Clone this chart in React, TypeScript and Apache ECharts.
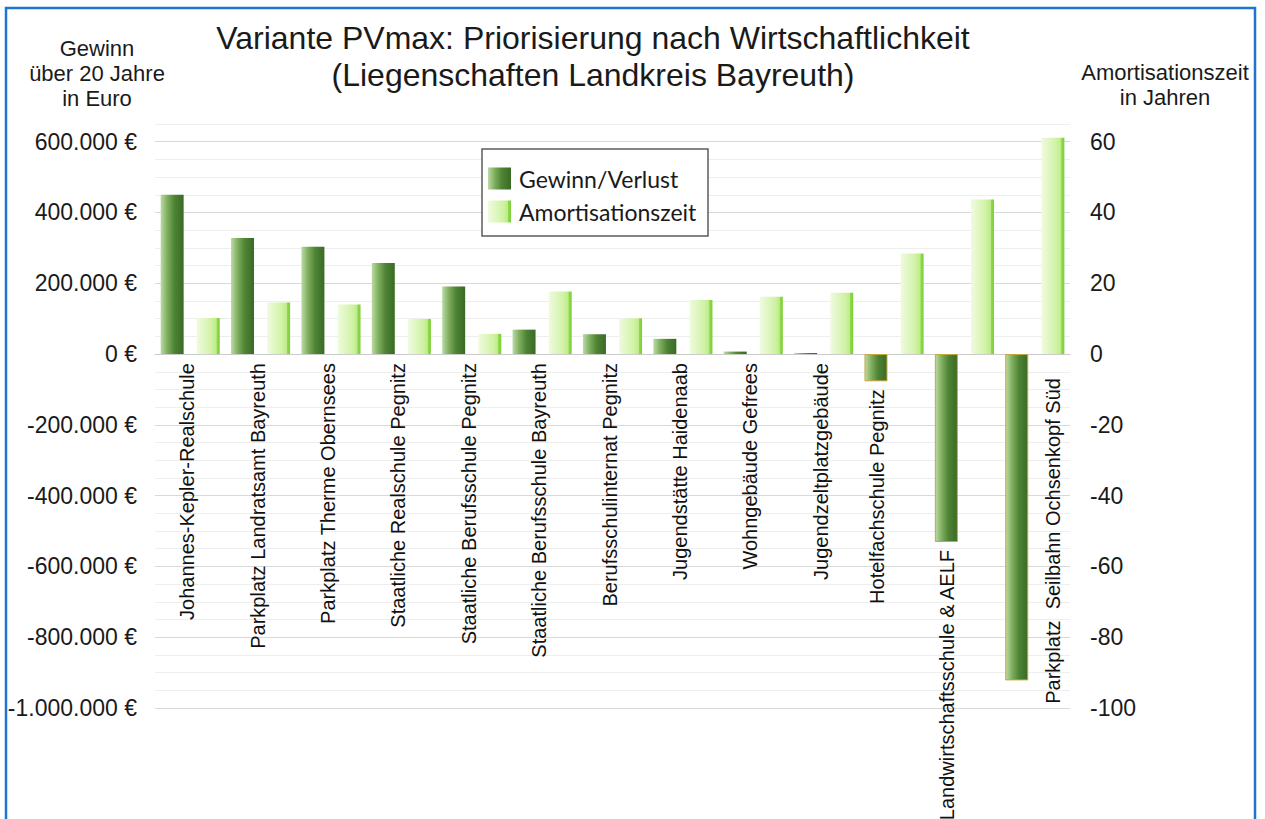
import React, { useEffect, useRef } from 'react';
import * as echarts from 'echarts';

const CATEGORIES = [
  'Johannes-Kepler-Realschule',
  'Parkplatz Landratsamt Bayreuth',
  'Parkplatz Therme Obernsees',
  'Staatliche Realschule Pegnitz',
  'Staatliche Berufsschule Pegnitz',
  'Staatliche Berufsschule Bayreuth',
  'Berufsschulinternat Pegnitz',
  'Jugendstätte Haidenaab',
  'Wohngebäude Gefrees',
  'Jugendzeltplatzgebäude',
  'Hotelfachschule Pegnitz',
  'Landwirtschaftsschule & AELF',
  'Parkplatz  Seilbahn Ochsenkopf Süd',
];

// Gewinn/Verlust über 20 Jahre in Euro
const GEWINN = [450000, 328000, 303000, 257000, 191000, 69000, 56000, 43000, 7000, 3000, -77000, -531000, -922000];
// Amortisationszeit in Jahren
const AMORT = [10.2, 14.6, 14.0, 9.9, 5.7, 17.7, 10.1, 15.3, 16.2, 17.3, 28.4, 43.7, 61.1];

const LEFT_RANGE = [-1000000, 650000];
const LEFT_LABEL_STEP = 200000;
const RIGHT_RANGE = [-100, 65];
const RIGHT_LABEL_STEP = 20;

const SERIES_NAMES = ['Gewinn/Verlust', 'Amortisationszeit'];
const LEFT_TITLE = 'Gewinn\nüber 20 Jahre\nin Euro';
const RIGHT_TITLE = 'Amortisationszeit\nin Jahren';
const TITLE = 'Variante PVmax: Priorisierung nach Wirtschaftlichkeit\n(Liegenschaften Landkreis Bayreuth)';

// where each category label sits (layout only)
const LABEL_PLACE = ['axis', 'axis', 'axis', 'axis', 'axis', 'axis', 'axis', 'axis', 'axis', 'axis', 'belowBar', 'belowBar', 'besideBar'];

const FONT = '"Liberation Sans", Arial, sans-serif';

const fmtEuro = (v: number) => {
  const s = Math.abs(Math.round(v)).toString().replace(/\B(?=(\d{3})+(?!\d))/g, '.');
  return (v < 0 ? '-' : '') + s + ' €';
};

export default function App() {
  const ref = useRef<HTMLDivElement>(null);

  useEffect(() => {
    document.body.style.margin = '0';
    if (!ref.current) return;
    const chart = echarts.init(ref.current, undefined, { renderer: 'svg' });

    const gewinnColor = new echarts.graphic.LinearGradient(0, 0, 1, 0, [
      { offset: 0, color: '#bcdba6' },
      { offset: 0.3, color: '#7dad5c' },
      { offset: 0.6, color: '#4e8335' },
      { offset: 1, color: '#3a6a24' },
    ]);
    const amortColor = new echarts.graphic.LinearGradient(0, 0, 1, 0, [
      { offset: 0, color: '#f0fbe0' },
      { offset: 0.65, color: '#d0f2a6' },
      { offset: 0.85, color: '#bdec88' },
      { offset: 0.88, color: '#8fda4c' },
      { offset: 1, color: '#7bcd36' },
    ]);

    const gewinnData = GEWINN.map((v) =>
      v < 0 ? { value: v, itemStyle: { borderColor: '#c6a73c', borderWidth: 1 } } : v
    );

    const labelData = CATEGORIES.map((_, i) => [i, GEWINN[i]]);

    const option: any = {
      animation: false,
      backgroundColor: '#ffffff',
      textStyle: { fontFamily: FONT },
      grid: { left: 155, right: 195, top: 124, bottom: 111, containLabel: false },
      legend: {
        data: SERIES_NAMES,
        orient: 'vertical',
        left: 488,
        top: 167,
        padding: 0,
        itemWidth: 23,
        itemHeight: 22,
        itemGap: 10,
        icon: 'rect',
        textStyle: { fontFamily: 'Lato, "Open Sans", sans-serif', fontSize: 23, lineHeight: 22, color: '#1a1a1a', padding: [0, 0, 0, 3] },
        z: 5,
      },
      xAxis: {
        type: 'category',
        data: CATEGORIES,
        axisLabel: { show: false },
        axisTick: { show: false },
        axisLine: { onZero: true, onZeroAxisIndex: 0, lineStyle: { color: '#cccccc', width: 1 } },
        splitLine: { show: false },
      },
      yAxis: [
        {
          type: 'value',
          min: LEFT_RANGE[0],
          max: LEFT_RANGE[1],
          interval: LEFT_LABEL_STEP / 4,
          axisLine: { show: false },
          axisTick: { show: false },
          axisLabel: {
            margin: 18,
            fontSize: 23,
            fontFamily: FONT,
            color: '#1a1a1a',
            formatter: (v: number) => (Math.round(v) % LEFT_LABEL_STEP === 0 && v < LEFT_RANGE[1] ? fmtEuro(v) : ''),
          },
          splitLine: { show: true, lineStyle: { color: ['#d9d9d9', '#eeeeee', '#eeeeee', '#eeeeee'], width: 1 } },
        },
        {
          type: 'value',
          min: RIGHT_RANGE[0],
          max: RIGHT_RANGE[1],
          interval: RIGHT_LABEL_STEP / 4,
          axisLine: { show: false },
          axisTick: { show: false },
          axisLabel: {
            margin: 20,
            fontSize: 23,
            fontFamily: FONT,
            color: '#1a1a1a',
            formatter: (v: number) => (Math.round(v) % RIGHT_LABEL_STEP === 0 && v < RIGHT_RANGE[1] ? String(Math.round(v)) : ''),
          },
          splitLine: { show: false },
        },
      ],
      series: [
        {
          name: SERIES_NAMES[0],
          type: 'bar',
          yAxisIndex: 0,
          data: gewinnData,
          barWidth: 23,
          barGap: '57%',
          itemStyle: { color: gewinnColor },
        },
        {
          name: SERIES_NAMES[1],
          type: 'bar',
          yAxisIndex: 1,
          data: AMORT,
          barWidth: 23,
          barGap: '57%',
          itemStyle: { color: amortColor },
        },
        {
          name: 'labels',
          type: 'custom',
          yAxisIndex: 0,
          silent: true,
          z: 6,
          clip: false,
          data: labelData,
          renderItem: (params: any, api: any) => {
            const i = params.dataIndex;
            const g = api.value(1);
            const p0 = api.coord([i, 0]);
            const band = api.coord([1, 0])[0] - api.coord([0, 0])[0];
            const place = LABEL_PLACE[i];
            let x = p0[0] - 3;
            let y = p0[1] + 9;
            if (place === 'belowBar') {
              x = p0[0] - band * 0.245;
              y = api.coord([i, g])[1] + 8;
            } else if (place === 'besideBar') {
              x = p0[0] + band * 0.255;
              y = p0[1] + 24;
            }
            return {
              type: 'text',
              x,
              y,
              rotation: Math.PI / 2,
              style: {
                text: CATEGORIES[i],
                align: 'right',
                verticalAlign: 'middle',
                fontSize: 20,
                fontFamily: FONT,
                fill: '#111111',
              },
            };
          },
        },
      ],
      graphic: {
        elements: [
          {
            type: 'rect',
            z: 3,
            shape: { x: 482, y: 149, width: 226, height: 87 },
            style: { fill: '#ffffff', stroke: '#5c5c5c', lineWidth: 1.5 },
          },
          {
            type: 'text',
            x: 593,
            y: 19.5,
            style: { text: TITLE, align: 'center', verticalAlign: 'top', fontSize: 32, lineHeight: 37, fontFamily: FONT, fill: '#1a1a1a' },
          },
          {
            type: 'text',
            x: 97,
            y: 35.5,
            style: { text: LEFT_TITLE, align: 'center', verticalAlign: 'top', fontSize: 22, lineHeight: 25, fontFamily: FONT, fill: '#1a1a1a' },
          },
          {
            type: 'text',
            x: 1165,
            y: 59.5,
            style: { text: RIGHT_TITLE, align: 'center', verticalAlign: 'top', fontSize: 22, lineHeight: 25, fontFamily: FONT, fill: '#1a1a1a' },
          },
          {
            type: 'rect',
            z: 10,
            shape: { x: 6, y: 8, width: 1249, height: 850 },
            style: { fill: 'none', stroke: '#1f74cf', lineWidth: 2.5 },
          },
        ],
      },
    };

    chart.setOption(option);
    return () => chart.dispose();
  }, []);

  return <div ref={ref} style={{ width: 1265, height: 819 }} />;
}
